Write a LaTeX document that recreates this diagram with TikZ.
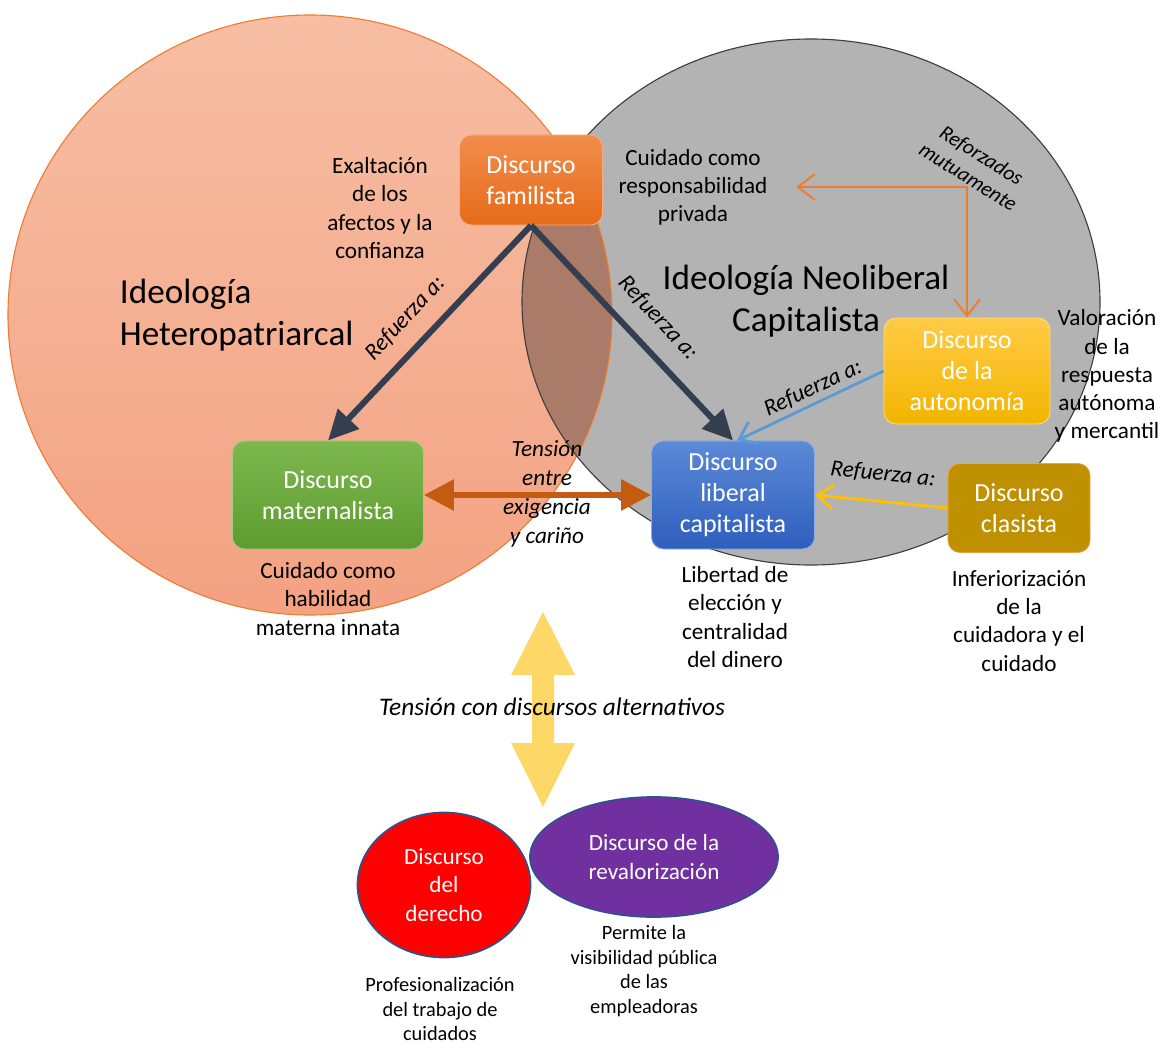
\documentclass[tikz,border=0pt]{standalone}
\usepackage{fontspec}
\setmainfont{Carlito}
\usepackage{tikz}
\usetikzlibrary{arrows.meta,shapes.geometric,calc}
\definecolor{salmtop}{HTML}{F7BEA4}
\definecolor{salmbot}{HTML}{F3A282}
\definecolor{salmline}{HTML}{ED7D31}
\definecolor{grisfill}{HTML}{B3B3B3}
\definecolor{grisline}{HTML}{3F3F3F}
\definecolor{solape}{HTML}{A97B68}
\definecolor{famtop}{HTML}{F28D4C}
\definecolor{fambot}{HTML}{E66B1A}
\definecolor{mattop}{HTML}{7DB84F}
\definecolor{matbot}{HTML}{5E9C2F}
\definecolor{libtop}{HTML}{5B8AD8}
\definecolor{libbot}{HTML}{2F5EBD}
\definecolor{auttop}{HTML}{FFCB47}
\definecolor{autbot}{HTML}{F2B500}
\definecolor{clafill}{HTML}{BF9000}
\definecolor{claline}{HTML}{EDA24E}
\definecolor{azulosc}{HTML}{333F50}
\definecolor{tensioncol}{HTML}{C55A11}
\definecolor{azulclaro}{HTML}{5B9BD5}
\definecolor{oro}{HTML}{FFC000}
\definecolor{naranja}{HTML}{ED7D31}
\definecolor{amarillo}{HTML}{FDD866}
\definecolor{rojo}{HTML}{FF0000}
\definecolor{morado}{HTML}{7030A0}
\definecolor{ellline}{HTML}{2F528F}
\tikzset{
  caja/.style={rounded corners=0.3cm,align=center,text=white,line width=0.6pt,
    font=\fontsize{18.5}{22}\selectfont},
  elip/.style={ellipse,draw=ellline,line width=1.2pt,align=center,text=white,
    font=\fontsize{16.5}{20}\selectfont},
  nota/.style={align=center,font=\fontsize{16.5}{20}\selectfont},
  notachica/.style={align=center,font=\fontsize{14.5}{17.5}\selectfont},
  refz/.style={font=\fontsize{16.5}{20}\selectfont\itshape},
  titulo/.style={font=\fontsize{25}{30}\selectfont},
  gruesa/.style={line width=4.3pt,-{Triangle[length=0.75cm,width=0.7cm]}},
  fina/.style={line width=2pt,-{Straight Barb[length=0.4cm,width=0.6cm]}}
}
\begin{document}
\begin{tikzpicture}[x=0.025cm,y=-0.025cm,line join=round]
\useasboundingbox (0,0) rectangle (1162,1043);
% ideologias
\shade[top color=salmtop,bottom color=salmbot] (310,315) ellipse [x radius=302,y radius=300];
\fill[grisfill] (811,302) ellipse [x radius=289,y radius=263];
\begin{scope}
\clip (310,315) ellipse [x radius=302,y radius=300];
\fill[solape] (811,302) ellipse [x radius=289,y radius=263];
\end{scope}
\draw[salmline,line width=0.8pt] (310,315) ellipse [x radius=302,y radius=300];
\draw[grisline,line width=0.8pt] (811,302) ellipse [x radius=289,y radius=263];
\node[titulo,align=left,anchor=west] (heter) at (115,315) {Ideología\\Heteropatriarcal};
\node[titulo,align=center] (neol) at (806,301) {Ideología Neoliberal\\Capitalista};
% discursos
\node[caja,top color=famtop,bottom color=fambot,draw=famtop!70!white,minimum width=3.575cm,minimum height=2.25cm] (fam) at (531,180) {Discurso\\familista};
\node[caja,top color=mattop,bottom color=matbot,draw=mattop!70!white,minimum width=4.775cm,minimum height=2.7cm] (mat) at (328,495) {Discurso\\maternalista};
\node[caja,top color=libtop,bottom color=libbot,draw=libtop!70!white,minimum width=4.075cm,minimum height=2.7cm] (lib) at (733,495) {Discurso\\liberal\\capitalista};
\node[caja,top color=auttop,bottom color=autbot,draw=auttop!70!white,minimum width=4.15cm,minimum height=2.65cm] (aut) at (967,371) {Discurso\\de la\\autonomía};
\node[caja,fill=clafill,draw=claline,minimum width=3.55cm,minimum height=2.225cm] (cla) at (1019,508) {Discurso\\clasista};
% notas
\node[nota] (exal) at (380,208) {Exaltación\\de los\\afectos y la\\confianza};
\node[nota] (resp) at (693,187) {Cuidado como\\responsabilidad\\privada};
\node[nota] (valor) at (1107,376) {Valoración\\de la\\respuesta\\autónoma\\y mercantil};
\node[nota] (cuid) at (328,599) {Cuidado como\\habilidad\\materna innata};
\node[nota] (libert) at (735,617) {Libertad de\\elección y\\centralidad\\del dinero};
\node[nota] (infer) at (1019,621) {Inferiorización\\de la\\cuidadora y el\\cuidado};
% conectores
\draw[gruesa,color=azulosc] (fam.south) -- (mat.north);
\draw[gruesa,color=azulosc] (fam.south) -- (lib.north);
\draw[line width=4.3pt,color=tensioncol,{Triangle[length=0.75cm,width=0.75cm]}-{Triangle[length=0.75cm,width=0.75cm]}] (mat.east) -- (lib.west);
\draw[fina,color=azulclaro] (aut.west) -- ([xshift=0.1cm]lib.north);
\draw[fina,color=oro] (cla.west) -- (lib.east);
\draw[color=naranja,line width=1.4pt,{Straight Barb[length=0.42cm,width=0.65cm]}-{Straight Barb[length=0.42cm,width=0.65cm]},shorten <=0.6cm] (resp.east) -| (aut.north);
\node[refz,rotate=47] (r1) at (405,318) {Refuerza a:};
\node[refz,rotate=-47] (r2) at (658,318) {Refuerza a:};
\node[refz,rotate=25] (r3) at (813,388) {Refuerza a:};
\node[refz,rotate=-6] (r4) at (883,474) {Refuerza a:};
\node[refz,align=center,rotate=-32,font=\fontsize{15}{18}\selectfont\itshape] (mutu) at (975,166) {Reforzados\\mutuamente};
\node[nota,font=\fontsize{16.5}{20.5}\selectfont\itshape] (tens) at (547,494) {Tensión\\entre\\exigencia\\y cariño};
% discursos alternativos
\fill[amarillo] (543,612) -- (575,675) -- (554,675) -- (554,743) -- (575,743) -- (543,807)
  -- (511,743) -- (532,743) -- (532,675) -- (511,675) -- cycle;
\node[font=\fontsize{18}{22}\selectfont\itshape] (alter) at (552,707) {Tensión con discursos alternativos};
\node[elip,fill=rojo,minimum width=4.325cm,minimum height=3.625cm] (der) at (444,885) {Discurso\\del\\derecho};
\node[elip,fill=morado,minimum width=6.2cm,minimum height=3cm] (rev) at (654,857) {Discurso de la\\revalorización};
\node[notachica] (prof) at (440,1009) {Profesionalización\\del trabajo de\\cuidados};
\node[notachica] (perm) at (644,971) {Permite la\\visibilidad pública\\de las\\empleadoras};
\end{tikzpicture}
\end{document}
